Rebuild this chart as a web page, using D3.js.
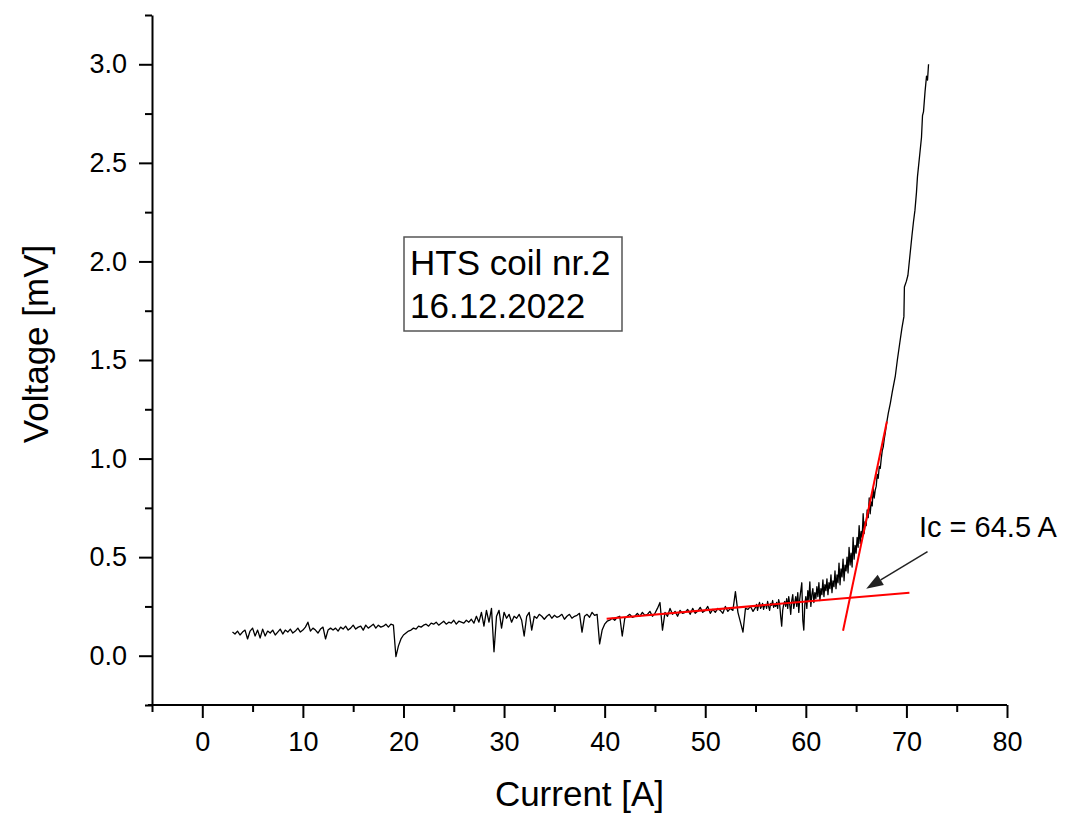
<!DOCTYPE html>
<html><head><meta charset="utf-8">
<script src="https://cdn.jsdelivr.net/npm/d3@7"></script>
<style>
html,body{margin:0;padding:0;background:#fff;}
svg{display:block;font-family:"Liberation Sans",Arial,Helvetica,sans-serif;}
</style></head>
<body>
<svg id="chart" width="1068" height="818"></svg>
<script>
// ---- data ----
const current = [
3,3.25,3.5,3.75,4,4.25,4.5,4.75,5,5.25,5.5,5.75,6,6.25,6.5,6.75,7,7.25,7.5,7.75,
8,8.25,8.5,8.75,9,9.25,9.5,9.75,10,10.25,10.5,10.75,11,11.25,11.5,11.75,12,12.25,12.5,12.75,
13,13.25,13.5,13.75,14,14.25,14.5,14.75,15,15.25,15.5,15.75,16,16.25,16.5,16.75,17,17.25,17.5,17.75,
18,18.25,18.5,18.75,19,19.25,19.5,19.75,20,20.25,20.5,20.75,21,21.25,21.5,21.75,22,22.25,22.5,22.75,
23,23.25,23.5,23.75,24,24.25,24.5,24.75,25,25.25,25.5,25.75,26,26.25,26.5,26.75,27,27.25,27.5,27.75,
28,28.25,28.5,28.75,29,29.25,29.5,29.75,30,30.25,30.5,30.75,31,31.25,31.5,31.75,32,32.25,32.5,32.75,
33,33.25,33.5,33.75,34,34.25,34.5,34.75,35,35.25,35.5,35.75,36,36.25,36.5,36.75,37,37.25,37.5,37.75,
38,38.25,38.5,38.75,39,39.25,39.5,39.75,40,40.25,40.5,40.75,41,41.25,41.5,41.75,42,42.25,42.5,42.75,
43,43.25,43.5,43.75,44,44.25,44.5,44.75,45,45.25,45.5,45.75,46,46.25,46.5,46.75,47,47.25,47.5,47.75,
48,48.25,48.5,48.75,49,49.25,49.5,49.75,50,50.25,50.5,50.75,51,51.25,51.5,51.75,52,52.25,52.5,52.75,
53,53.25,53.5,53.75,54,54.25,54.5,54.75,
55,55.1,55.2,55.3,55.4,55.5,55.6,55.7,55.8,55.9,
56,56.1,56.2,56.3,56.4,56.5,56.6,56.7,56.8,56.9,
57,57.1,57.2,57.3,57.4,57.5,57.6,57.7,57.8,57.9,
58,58.1,58.2,58.3,58.4,58.5,58.6,58.7,58.8,58.9,
59,59.1,59.2,59.3,59.4,59.5,59.6,59.7,59.8,59.9,
60,60.1,60.2,60.3,60.4,60.5,60.6,60.7,60.8,60.9,
61,61.1,61.2,61.3,61.4,61.5,61.6,61.7,61.8,61.9,
62,62.1,62.2,62.3,62.4,62.5,62.6,62.7,62.8,62.9,
63,63.1,63.2,63.3,63.4,63.5,63.6,63.7,63.8,63.9,
64,64.1,64.2,64.3,64.4,64.5,64.6,64.7,64.8,64.9,
65,65.1,65.2,65.3,65.4,65.5,65.6,65.7,65.8,65.9,
66,66.1,66.2,66.3,66.4,66.5,66.6,66.7,66.8,66.9,
67,67.1,67.2,67.3,67.4,67.5,67.6,67.7,67.8,67.9,
68,68.2,68.4,68.6,68.9,69.1,69.35,69.55,69.75,69.8,70,70.15,70.35,70.55,70.7,70.85,71,71.1,71.3,71.5,71.6,71.7,71.85,72,72.1,72.2
];
const voltage = [
0.12,0.11,0.125,0.105,0.12,0.13,0.085,0.125,0.14,0.1,0.13,0.09,0.135,0.1,0.125,0.115,0.13,0.105,0.12,0.135,
0.11,0.13,0.12,0.135,0.115,0.125,0.14,0.12,0.13,0.145,0.17,0.125,0.14,0.13,0.115,0.135,0.145,0.085,0.13,0.14,
0.13,0.14,0.125,0.145,0.135,0.15,0.13,0.14,0.155,0.135,0.145,0.15,0.13,0.155,0.14,0.15,0.16,0.14,0.155,0.145,
0.15,0.16,0.145,0.16,0.155,-0.005,0.05,0.085,0.105,0.115,0.125,0.13,0.14,0.135,0.15,0.145,0.155,0.16,0.15,0.165,
0.16,0.17,0.155,0.165,0.175,0.16,0.17,0.165,0.18,0.16,0.175,0.17,0.165,0.18,0.17,0.185,0.165,0.2,0.17,0.22,
0.15,0.23,0.17,0.24,0.02,0.2,0.23,0.14,0.22,0.19,0.21,0.17,0.2,0.19,0.21,0.18,0.1,0.2,0.22,0.13,
0.2,0.19,0.21,0.2,0.185,0.2,0.21,0.19,0.205,0.195,0.2,0.21,0.185,0.2,0.21,0.19,0.2,0.205,0.215,0.12,
0.2,0.21,0.195,0.22,0.205,0.21,0.06,0.13,0.16,0.175,0.18,0.19,0.18,0.195,0.2,0.1,0.19,0.2,0.21,0.195,
0.2,0.215,0.2,0.22,0.205,0.21,0.225,0.2,0.215,0.24,0.27,0.13,0.22,0.2,0.24,0.21,0.225,0.2,0.23,0.215,
0.22,0.235,0.21,0.24,0.215,0.225,0.245,0.22,0.23,0.25,0.215,0.235,0.22,0.24,0.23,0.215,0.25,0.225,0.24,0.23,
0.325,0.22,0.17,0.12,0.24,0.235,0.25,0.225,
0.245,0.26,0.23,0.255,0.27,0.24,0.25,0.265,0.235,0.255,
0.26,0.24,0.275,0.25,0.23,0.265,0.255,0.28,0.245,0.26,
0.25,0.27,0.24,0.285,0.26,0.2,0.15,0.23,0.26,0.275,
0.25,0.29,0.24,0.3,0.26,0.21,0.28,0.31,0.24,0.27,
0.3,0.25,0.32,0.22,0.29,0.33,0.37,0.18,0.13,0.26,
0.3,0.24,0.33,0.28,0.375,0.25,0.31,0.34,0.27,0.32,
0.29,0.35,0.3,0.37,0.28,0.34,0.31,0.385,0.3,0.36,
0.33,0.39,0.31,0.37,0.34,0.41,0.32,0.38,0.35,0.43,
0.34,0.41,0.37,0.47,0.36,0.44,0.4,0.49,0.38,0.46,
0.43,0.5,0.42,0.55,0.46,0.52,0.45,0.6,0.49,0.56,
0.52,0.6,0.55,0.66,0.57,0.63,0.6,0.72,0.62,0.68,
0.66,0.74,0.7,0.8,0.72,0.78,0.76,0.85,0.8,0.84,
0.86,0.92,0.9,0.96,0.95,1.0,1.04,1.06,1.1,1.13,
1.17,1.23,1.28,1.34,1.42,1.5,1.59,1.66,1.72,1.87,1.9,1.93,2.03,2.13,2.2,2.26,2.35,2.43,2.53,2.63,2.74,2.76,2.86,2.94,2.92,3.0
];
const fitLow  = [[40.2, 0.188], [70.3, 0.32]];
const fitHigh = [[63.7, 0.127], [68.06, 1.188]];
const arrowFromTo = [[72.1, 0.528], [66.0, 0.34]];
const xTicks = [0,10,20,30,40,50,60,70,80];
const xMinor = [-5,5,15,25,35,45,55,65,75];
const yTicks = [0,0.5,1.0,1.5,2.0,2.5,3.0];
const yMinor = [-0.25,0.25,0.75,1.25,1.75,2.25,2.75,3.25];
const xLabel = "Current [A]";
const yLabel = "Voltage [mV]";
const boxLines = ["HTS coil nr.2", "16.12.2022"];
const icLabel = "Ic = 64.5 A";

// ---- drawing ----
const svg = d3.select("#chart");
const x = d3.scaleLinear().domain([-5, 80]).range([152, 1007]);
const y = d3.scaleLinear().domain([-0.25, 3.25]).range([705, 15]);

const pts = current.map((c, i) => [c, voltage[i]]);
const line = d3.line().x(d => x(d[0])).y(d => y(d[1]));

svg.append("path").datum(pts).attr("d", line)
  .attr("fill", "none").attr("stroke", "#000").attr("stroke-width", 1.3)
  .attr("stroke-linejoin", "round");

[fitLow, fitHigh].forEach(f => {
  svg.append("path").datum(f).attr("d", line)
    .attr("fill", "none").attr("stroke", "#ff0000").attr("stroke-width", 2);
});

// axes
const fs = 27;
const gx = svg.append("g").attr("transform", `translate(0,${y(-0.25)})`)
  .call(d3.axisBottom(x).tickValues(xTicks).tickSize(13).tickSizeOuter(0).tickPadding(14).tickFormat(d3.format("d")));
const gxm = svg.append("g").attr("transform", `translate(0,${y(-0.25)})`)
  .call(d3.axisBottom(x).tickValues(xMinor).tickSize(7).tickSizeOuter(0).tickFormat(""));
gxm.select(".domain").remove();
const gy = svg.append("g").attr("transform", `translate(${x(-5)},0)`)
  .call(d3.axisLeft(y).tickValues(yTicks).tickSize(13).tickSizeOuter(0).tickPadding(12).tickFormat(d3.format(".1f")));
const gym = svg.append("g").attr("transform", `translate(${x(-5)},0)`)
  .call(d3.axisLeft(y).tickValues(yMinor).tickSize(7).tickSizeOuter(0).tickFormat(""));
gym.select(".domain").remove();
[gx, gy, gxm, gym].forEach(g => {
  g.selectAll("path,line").attr("stroke", "#000").attr("stroke-width", 2);
  g.selectAll("text").attr("font-size", fs).attr("fill", "#000")
    .attr("font-family", '"Liberation Sans",Arial,sans-serif');
});
gx.select(".domain").attr("d", `M${x(-5)-4},0H${x(80)}`);

// axis titles
svg.append("text").attr("x", (x(-5) + x(80)) / 2).attr("y", 806)
  .attr("text-anchor", "middle").attr("font-size", 35).text(xLabel);
svg.append("text").attr("transform", `translate(48,344) rotate(-90)`)
  .attr("text-anchor", "middle").attr("font-size", 35).text(yLabel);

// text box
svg.append("rect").attr("x", 404).attr("y", 237).attr("width", 218).attr("height", 94)
  .attr("fill", "#fff").attr("stroke", "#555").attr("stroke-width", 1.5);
boxLines.forEach((t, i) => {
  svg.append("text").attr("x", 410).attr("y", 275 + i * 43)
    .attr("font-size", 35).attr("fill", "#000").text(t);
});

// Ic label and arrow
svg.append("text").attr("x", 919).attr("y", 537).attr("font-size", 29).text(icLabel);
const [a0, a1] = arrowFromTo;
const ax0 = x(a0[0]), ay0 = y(a0[1]), ax1 = x(a1[0]), ay1 = y(a1[1]);
const ang = Math.atan2(ay1 - ay0, ax1 - ax0);
const hl = 17, hw = 6;
const bx = ax1 - hl * Math.cos(ang), by = ay1 - hl * Math.sin(ang);
svg.append("line").attr("x1", ax0).attr("y1", ay0).attr("x2", bx).attr("y2", by)
  .attr("stroke", "#222").attr("stroke-width", 1.5);
svg.append("path")
  .attr("d", `M${ax1},${ay1}L${bx + hw * Math.sin(ang)},${by - hw * Math.cos(ang)}L${bx - hw * Math.sin(ang)},${by + hw * Math.cos(ang)}Z`)
  .attr("fill", "#222");
</script>
</body></html>
